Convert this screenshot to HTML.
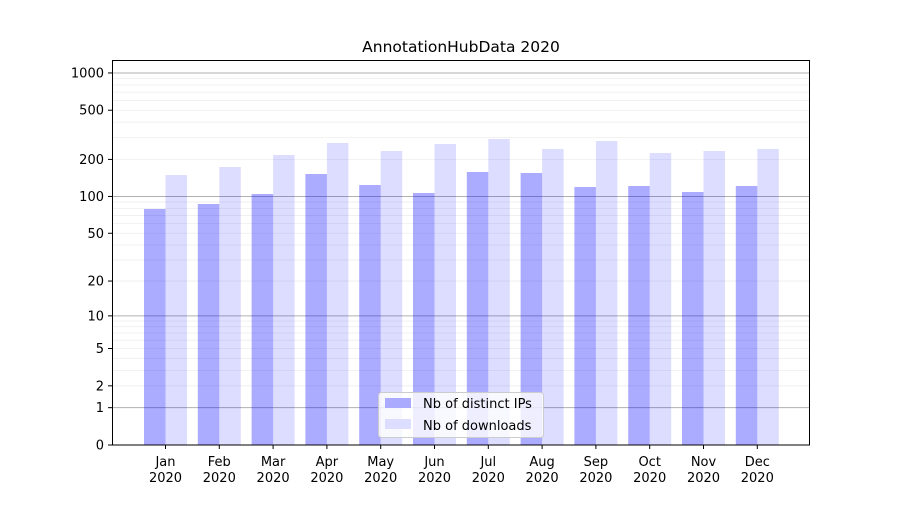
<!DOCTYPE html>
<html><head><meta charset="utf-8"><style>
body{margin:0;background:#fff}
svg{font-family:"DejaVu Sans","Liberation Sans",sans-serif}
</style></head><body>
<svg width="900" height="500" viewBox="0 0 900 500" xmlns="http://www.w3.org/2000/svg">
<rect width="900" height="500" fill="#fff"/>
<g id="grid"></g>
<g id="bars"></g>
<rect x="112.5" y="60.5" width="697" height="384.5" fill="none" stroke="#000" stroke-width="1"/>
<g id="ticks" font-size="13" fill="#000"></g>
<text x="461" y="52" font-size="15.5" text-anchor="middle">AnnotationHubData 2020</text>
<g>
<rect x="378.5" y="392.5" width="165" height="45" rx="3" fill="#fff" fill-opacity="0.8" stroke="#ccc"/>
<rect x="385" y="398" width="26" height="10" fill="#aaaaff"/>
<text x="423" y="408" font-size="13">Nb of distinct IPs</text>
<rect x="385" y="419" width="26" height="10" fill="#ddddff"/>
<text x="423" y="430" font-size="13">Nb of downloads</text>
</g>
<script>
const ns="http://www.w3.org/2000/svg";
function el(p,t,a,txt){const e=document.createElementNS(ns,t);for(const k in a)e.setAttribute(k,a[k]);if(txt!==undefined)e.textContent=txt;p.appendChild(e);return e;}
const Y=v=>445-124*Math.log10(1+v);
const g=document.getElementById("grid");
for(let d=1;d<=1000;d*=10){for(let m=1;m<10;m++){const v=d*m;const y=Y(v);if(y<61)continue;
el(g,"line",{x1:112,x2:810,y1:y,y2:y,stroke:m==1?"#b0b0b0":"#eee","stroke-width":m==1?1:0.8});}}
const tk=document.getElementById("ticks");
[0,1,2,5,10,20,50,100,200,500,1000].forEach(v=>{const y=Y(v);
el(tk,"line",{x1:108,x2:112,y1:y,y2:y,stroke:"#000"});
el(tk,"text",{x:104,y:y+4.5,"text-anchor":"end"},String(v));});
const b=document.getElementById("bars");
const blue=[209,204,194,174,185,193,172,173,187,186,192,186];
const light=[175,167,155,143,151,144,139,149,141,153,151,149];
const mon=["Jan","Feb","Mar","Apr","May","Jun","Jul","Aug","Sep","Oct","Nov","Dec"];
for(let i=0;i<12;i++){const c=165.5+53.8*i;
el(b,"rect",{x:c-21.5,y:blue[i],width:21.5,height:445-blue[i],fill:"#0000ff","fill-opacity":0.33});
el(b,"rect",{x:c,y:light[i],width:21.5,height:445-light[i],fill:"#0000ff","fill-opacity":0.135});
el(tk,"line",{x1:c,x2:c,y1:445,y2:449,stroke:"#000"});
el(tk,"text",{x:c,y:466,"text-anchor":"middle"},mon[i]);
el(tk,"text",{x:c,y:482,"text-anchor":"middle"},"2020");}
</script>
</svg>
</body></html>
